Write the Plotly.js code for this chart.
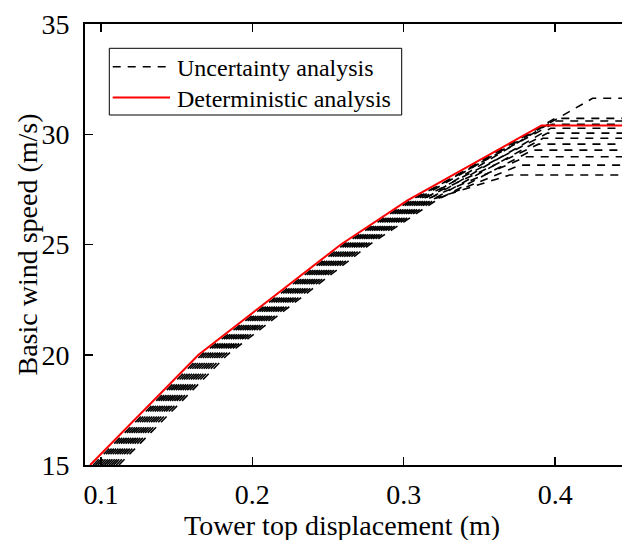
<!DOCTYPE html>
<html>
<head>
<meta charset="utf-8">
<script src="https://cdn.plot.ly/plotly-3.0.1.min.js"></script>
<style>
html, body { margin: 0; padding: 0; overflow: hidden; background: #fff; width: 622px; height: 540px; }
#chart { width: 640px; height: 540px; }
.t { position: absolute; left: 250px; font-size: 26px; }
</style>
</head>
<body>
<div class="t" style="top:230px;font-family:'Liberation Serif'">Tower top displacement</div>
<div class="t" style="top:265px;font-family:'DejaVu Serif'">Tower</div>
<div class="t" style="top:300px;font-family:serif">Tower</div>
<div id="chart"></div>
<script>
// Deterministic analysis curve
const detX = [0.0929, 0.1645, 0.2585, 0.3025, 0.3910, 0.4700];
const detY = [15, 20, 25, 27, 30.4, 30.4];

// Uncertainty analysis curves
const uncA_X = [0.0979, 0.1695, 0.2635, 0.3075, 0.4247, 0.4700];
const uncA_Y = [15, 20, 25, 27, 31.63, 31.63];
const uncB_X = [0.0964, 0.1680, 0.2620, 0.3060, 0.4000, 0.4700];
const uncB_Y = [15, 20, 25, 27, 30.72, 30.72];
const uncC_X = [0.1024, 0.1740, 0.2680, 0.3120, 0.3990, 0.4700];
const uncC_Y = [15, 20, 25, 27, 30.60, 30.60];
const uncD_X = [0.0949, 0.1665, 0.2605, 0.3045, 0.3980, 0.4700];
const uncD_Y = [15, 20, 25, 27, 30.45, 30.45];
const uncE_X = [0.1054, 0.1770, 0.2710, 0.3150, 0.3970, 0.4700];
const uncE_Y = [15, 20, 25, 27, 30.27, 30.27];
const uncF_X = [0.0994, 0.1710, 0.2650, 0.3090, 0.3950, 0.4700];
const uncF_Y = [15, 20, 25, 27, 30.05, 30.05];
const uncG_X = [0.1084, 0.1800, 0.2740, 0.3180, 0.3920, 0.4700];
const uncG_Y = [15, 20, 25, 27, 29.82, 29.82];
const uncH_X = [0.1009, 0.1725, 0.2665, 0.3105, 0.3890, 0.4700];
const uncH_Y = [15, 20, 25, 27, 29.55, 29.55];
const uncI_X = [0.1119, 0.1835, 0.2775, 0.3215, 0.3850, 0.4700];
const uncI_Y = [15, 20, 25, 27, 29.28, 29.28];
const uncJ_X = [0.1039, 0.1755, 0.2695, 0.3135, 0.3810, 0.4700];
const uncJ_Y = [15, 20, 25, 27, 28.98, 28.98];
const uncK_X = [0.1101, 0.1817, 0.2757, 0.3197, 0.3770, 0.4700];
const uncK_Y = [15, 20, 25, 27, 28.60, 28.60];
const uncL_X = [0.1069, 0.1785, 0.2725, 0.3165, 0.3700, 0.4700];
const uncL_Y = [15, 20, 25, 27, 28.15, 28.15];

const xTicks = [0.1, 0.2, 0.3, 0.4];
const xTickText = ['0.1', '0.2', '0.3', '0.4'];
const yTicks = [15, 20, 25, 30, 35];
const yTickText = ['15', '20', '25', '30', '35'];

const legendLabels = ['Uncertainty analysis', 'Deterministic analysis'];
const xTitle = 'Tower top displacement (m)';
const yTitle = 'Basic wind speed (m/s)';

const FONT = 'Liberation Serif';
const DASH = '8px,7px';

const uncX = [uncA_X, uncB_X, uncC_X, uncD_X, uncE_X, uncF_X, uncG_X, uncH_X, uncI_X, uncJ_X, uncK_X, uncL_X];
const uncY = [uncA_Y, uncB_Y, uncC_Y, uncD_Y, uncE_Y, uncF_Y, uncG_Y, uncH_Y, uncI_Y, uncJ_Y, uncK_Y, uncL_Y];

const traces = uncX.map((xs, i) => ({
  x: xs, y: uncY[i], type: 'scatter', mode: 'lines',
  line: {color: '#000000', width: 1.6, dash: DASH}
}));
traces.push({
  x: detX, y: detY, type: 'scatter', mode: 'lines',
  line: {color: '#ff0000', width: 2}
});

// pixel -> paper helpers for the hand-drawn legend
const L = 85, T = 24, PW = 546, PH = 441;
const px = v => (v - L) / PW;
const py = v => 1 - (v - T) / PH;

const layout = {
  width: 640, height: 540,
  margin: {l: L, r: 640 - L - PW, t: T, b: 540 - T - PH},
  font: {family: FONT, size: 28, color: '#000000'},
  showlegend: false,
  xaxis: {
    range: [0.0895, 0.4501], tickvals: xTicks, ticktext: xTickText,
    ticks: 'inside', ticklen: 8, tickwidth: 1.5, tickcolor: '#000',
    showline: true, linecolor: '#000', linewidth: 2, mirror: 'ticks',
    showgrid: false, zeroline: false,
    ticklabelstandoff: 3
  },
  yaxis: {
    range: [15, 35], tickvals: yTicks, ticktext: yTickText,
    ticks: 'inside', ticklen: 8, tickwidth: 1.5, tickcolor: '#000',
    showline: true, linecolor: '#000', linewidth: 2, mirror: 'ticks',
    showgrid: false, zeroline: false,
    ticklabelstandoff: 8
  },
  shapes: [
    {type: 'rect', xref: 'paper', yref: 'paper', x0: px(109.3), x1: px(401.7), y0: py(115), y1: py(48.3),
     line: {color: '#000', width: 1}, fillcolor: '#ffffff', layer: 'above'},
    {type: 'line', xref: 'paper', yref: 'paper', x0: px(112.7), x1: px(170), y0: py(66.7), y1: py(66.7),
     line: {color: '#000', width: 1.5, dash: DASH}, layer: 'above'},
    {type: 'line', xref: 'paper', yref: 'paper', x0: px(112.7), x1: px(170), y0: py(97.5), y1: py(97.5),
     line: {color: '#ff0000', width: 2}, layer: 'above'}
  ],
  annotations: [
    {text: legendLabels[0], xref: 'paper', yref: 'paper', x: px(175), y: py(68), xanchor: 'left', yanchor: 'middle',
     showarrow: false, font: {family: FONT, size: 24}},
    {text: legendLabels[1], xref: 'paper', yref: 'paper', x: px(175), y: py(99.5), xanchor: 'left', yanchor: 'middle',
     showarrow: false, font: {family: FONT, size: 24}},
    {text: xTitle, xref: 'paper', yref: 'paper', x: px(342), y: py(525.5), xanchor: 'center', yanchor: 'middle',
     showarrow: false, font: {family: FONT, size: 28}},
    {text: yTitle, xref: 'paper', yref: 'paper', x: px(27), y: py(244.5), xanchor: 'center', yanchor: 'middle',
     textangle: -90, showarrow: false, font: {family: FONT, size: 28}}
  ]
};

Plotly.newPlot('chart', traces, layout, {staticPlot: true});
</script>
</body>
</html>
